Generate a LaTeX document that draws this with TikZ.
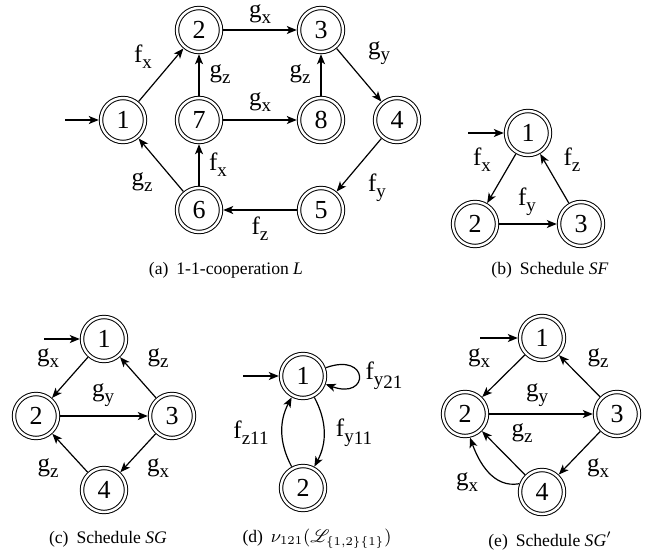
\documentclass[tikz,border=0pt]{standalone}
\usepackage{fontspec}
\setmainfont{Liberation Serif}
\usepackage{mathrsfs}
\usetikzlibrary{arrows.meta}
\newcommand{\sbx}[2]{#1\raisebox{-0.5ex}{\fontsize{9.5}{10}\selectfont #2}}
\begin{document}
\begin{tikzpicture}[x=0.5pt,y=-0.5pt,
 st/.style={circle,draw,double,double distance=1.2pt,line width=0.5pt,minimum size=22pt,inner sep=0pt,outer sep=1.1pt,font=\fontsize{13}{14}\selectfont},
 lb/.style={inner sep=0pt,font=\fontsize{12.5}{14}\selectfont},
 captxt/.style={inner sep=0pt,font=\fontsize{8.8}{10}\selectfont},
 ar/.style={-{Stealth[length=5pt,width=4pt,inset=1.3pt]},line width=0.6pt}]
\useasboundingbox (0,0) rectangle (651,557);
% (a)
\node[st] (a1) at (123,120) {1};
\node[st] (a2) at (199,30) {2};
\node[st] (a3) at (321,30) {3};
\node[st] (a7) at (199,120) {7};
\node[st] (a8) at (321,120) {8};
\node[st] (a4) at (397,120) {4};
\node[st] (a5) at (321,210) {5};
\node[st] (a6) at (199,210) {6};
\coordinate (a0) at (65,120);
\draw[ar] (a0) -- (a1);
\draw[ar] (a1) -- (a2);
\draw[ar] (a2) -- (a3);
\draw[ar] (a3) -- (a4);
\draw[ar] (a4) -- (a5);
\draw[ar] (a5) -- (a6);
\draw[ar] (a6) -- (a1);
\draw[ar] (a6) -- (a7);
\draw[ar] (a7) -- (a2);
\draw[ar] (a7) -- (a8);
\draw[ar] (a8) -- (a3);
\node[lb] (la1) at (143,57) {\sbx{f}{x}};
\node[lb] (la2) at (260,14) {\sbx{g}{x}};
\node[lb] (la3) at (379,53) {\sbx{g}{y}};
\node[lb] (la4) at (220,74) {\sbx{g}{z}};
\node[lb] (la5) at (300,74) {\sbx{g}{z}};
\node[lb] (la6) at (260,102) {\sbx{g}{x}};
\node[lb] (la7) at (218,165) {\sbx{f}{x}};
\node[lb] (la8) at (142,182) {\sbx{g}{z}};
\node[lb] (la9) at (377,188) {\sbx{f}{y}};
\node[lb] (la10) at (260,229) {\sbx{f}{z}};
\node[captxt] (ca) at (226,270) {(a)\hspace{0.45em}1-1-cooperation \textit{L}};
% (b)
\node[st] (b1) at (528,133) {1};
\node[st] (b2) at (475,224) {2};
\node[st] (b3) at (581,224) {3};
\coordinate (b0) at (468,133);
\draw[ar] (b0) -- (b1);
\draw[ar] (b1) -- (b2);
\draw[ar] (b2) -- (b3);
\draw[ar] (b3) -- (b1);
\node[lb] (lb1) at (482,160) {\sbx{f}{x}};
\node[lb] (lb2) at (572,160) {\sbx{f}{z}};
\node[lb] (lb3) at (527,202) {\sbx{f}{y}};
\node[captxt] (cb) at (550,270) {(b)\hspace{0.45em}Schedule \textit{SF}};
% (c)
\node[st] (c1) at (104,339) {1};
\node[st] (c2) at (36,416) {2};
\node[st] (c3) at (172,416) {3};
\node[st] (c4) at (104,490) {4};
\coordinate (c0) at (44,339);
\draw[ar] (c0) -- (c1);
\draw[ar] (c1) -- (c2);
\draw[ar] (c2) -- (c3);
\draw[ar] (c3) -- (c1);
\draw[ar] (c3) -- (c4);
\draw[ar] (c4) -- (c2);
\node[lb] (lc1) at (48,358) {\sbx{g}{x}};
\node[lb] (lc2) at (158,358) {\sbx{g}{z}};
\node[lb] (lc3) at (103,395) {\sbx{g}{y}};
\node[lb] (lc4) at (48,468) {\sbx{g}{z}};
\node[lb] (lc5) at (158,468) {\sbx{g}{x}};
\node[captxt] (cc) at (108,539) {(c)\hspace{0.45em}Schedule \textit{SG}};
% (d)
\node[st] (d1) at (303,376) {1};
\node[st] (d2) at (303,488) {2};
\coordinate (d0) at (243,376);
\draw[ar] (d0) -- (d1);
\draw[ar] (d1.20) .. controls +(22pt,8pt) and +(22pt,-8pt) .. (d1.-20);
\draw[ar] (d1.-62) to[bend left=28] (d2.62);
\draw[ar] (d2.118) to[bend left=28] (d1.-118);
\node[lb] (ld1) at (384,376) {\sbx{f}{y\raisebox{-0.3ex}{21}}};
\node[lb] (ld2) at (251,433) {\sbx{f}{z11}};
\node[lb] (ld3) at (354,433) {\sbx{f}{y\raisebox{-0.2ex}{11}}};
\node[captxt] (cd) at (317,539) {(d)\hspace{0.45em}$\nu_{121}(\mathscr{L}_{\{1,2\}\{1\}})$};
% (e)
\node[st] (e1) at (542,338) {1};
\node[st] (e2) at (465,414) {2};
\node[st] (e3) at (617,414) {3};
\node[st] (e4) at (542,492) {4};
\coordinate (e0) at (480,338);
\draw[ar] (e0) -- (e1);
\draw[ar] (e1) -- (e2);
\draw[ar] (e2) -- (e3);
\draw[ar] (e3) -- (e1);
\draw[ar] (e3) -- (e4);
\draw[ar] (e4) -- (e2);
\draw[ar] (e4.160) to[out=190,in=-70] (e2.-78);
\node[lb] (le1) at (479,358) {\sbx{g}{x}};
\node[lb] (le2) at (598,358) {\sbx{g}{z}};
\node[lb] (le3) at (537,395) {\sbx{g}{y}};
\node[lb] (le4) at (522,433) {\sbx{g}{z}};
\node[lb] (le5) at (598,468) {\sbx{g}{x}};
\node[lb] (le6) at (467,482) {\sbx{g}{x}};
\node[captxt] (ce) at (550,541) {(e)\hspace{0.45em}Schedule \textit{SG}$'$};
\end{tikzpicture}
\end{document}
